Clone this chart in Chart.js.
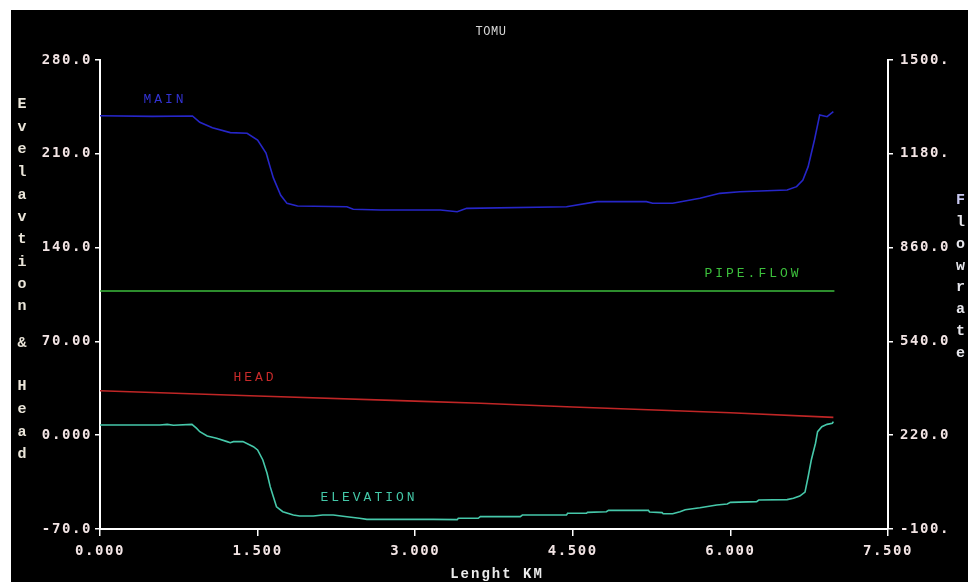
<!DOCTYPE html>
<html>
<head>
<meta charset="utf-8">
<script src="https://cdn.jsdelivr.net/npm/chart.js@4/dist/chart.umd.min.js"></script>
<style>
html,body{margin:0;padding:0;background:#fff;}
canvas{display:block;}
</style>
</head>
<body>
<canvas id="c" width="968" height="582" style="width:968px;height:582px"></canvas>
<script>
// ---- data ----
const chartTitle = 'TOMU';
const xAxisTitle = 'Lenght KM';
const leftAxisTitle = 'Evelavtion & Head';
const rightAxisTitle = 'Flowrate';

const xTickLabels = ['0.000', '1.500', '3.000', '4.500', '6.000', '7.500'];
const leftTickLabels = ['-70.0', '0.000', '70.00', '140.0', '210.0', '280.0'];
const rightTickLabels = ['-100.', '220.0', '540.0', '860.0', '1180.', '1500.'];

const elevKm = [0.00, 0.57, 0.64, 0.70, 0.875, 0.92, 0.95, 1.02, 1.11, 1.21, 1.24, 1.27, 1.36, 1.46, 1.50, 1.55, 1.59, 1.62, 1.65, 1.68, 1.74, 1.84, 1.90, 2.03, 2.12, 2.22, 2.35, 2.47, 2.54, 2.86, 3.17, 3.40, 3.41, 3.60, 3.62, 4.00, 4.02, 4.44, 4.45, 4.63, 4.64, 4.82, 4.84, 5.22, 5.23, 5.35, 5.36, 5.45, 5.52, 5.57, 5.71, 5.87, 5.97, 6.00, 6.25, 6.27, 6.54, 6.60, 6.66, 6.71, 6.74, 6.77, 6.81, 6.83, 6.87, 6.92, 6.97, 6.98];
const elevM = [7.6, 7.6, 8.1, 7.4, 8.1, 5.1, 2.6, -0.6, -2.3, -4.8, -5.6, -4.8, -4.8, -8.6, -11.0, -18.5, -28.4, -38.4, -45.9, -53.4, -57.1, -59.6, -60.3, -60.3, -59.6, -59.6, -60.8, -62.0, -62.8, -62.8, -62.8, -63.0, -62.0, -62.0, -60.8, -60.8, -59.6, -59.6, -58.3, -58.3, -57.6, -57.1, -56.1, -56.1, -57.3, -57.8, -58.6, -58.6, -57.1, -55.6, -54.1, -52.1, -51.3, -50.1, -49.6, -48.4, -48.1, -47.1, -45.4, -42.5, -31.0, -18.5, -6.0, 2.6, 6.3, 8.1, 8.9, 10.1];

const mainKm = [0.00, 0.50, 0.88, 0.95, 1.07, 1.24, 1.40, 1.50, 1.58, 1.65, 1.72, 1.78, 1.88, 2.35, 2.41, 2.67, 3.24, 3.40, 3.49, 4.44, 4.73, 5.20, 5.26, 5.45, 5.71, 5.90, 6.09, 6.54, 6.63, 6.69, 6.74, 6.80, 6.85, 6.92, 6.98];
const mainM = [238.4, 237.9, 238.2, 233.5, 229.5, 225.8, 225.3, 220.3, 210.5, 192.0, 179.0, 173.0, 171.0, 170.5, 168.6, 168.1, 168.1, 166.8, 169.3, 170.5, 174.3, 174.3, 173.1, 173.1, 176.8, 180.5, 181.7, 183.0, 185.5, 190.4, 200.4, 220.3, 239.0, 237.7, 241.4];

const headKm = [0.00, 1.50, 3.00, 3.62, 4.50, 6.00, 6.98];
const headM = [33.2, 29.2, 25.4, 23.8, 21.0, 16.8, 13.3];

const flowKm = [0.00, 6.99];
const flowRate = [712, 712];

const seriesNames = ['MAIN', 'PIPE.FLOW', 'HEAD', 'ELEVATION'];

// ---- helpers ----
const pts = (xs, ys) => xs.map((x, i) => ({x: x, y: ys[i]}));
const tickColor = '#f2e4e4';
const tickFont = {family: '"DejaVu Sans Mono", monospace', size: 14, weight: 'bold'};

const decor = {
  id: 'decor',
  beforeDraw(chart) {
    const ctx = chart.ctx;
    ctx.save();
    ctx.fillStyle = '#ffffff';
    ctx.fillRect(0, 0, chart.width, chart.height);
    ctx.fillStyle = '#000000';
    ctx.fillRect(11, 10, chart.width - 11, chart.height - 10);
    ctx.restore();
    ctx.letterSpacing = '1.6px';
  },
  afterDraw(chart) {
    const ctx = chart.ctx;
    const txt = (s, x, y, font, color, align, spacing) => {
      ctx.save();
      ctx.letterSpacing = spacing;
      ctx.font = font;
      ctx.fillStyle = color;
      ctx.textAlign = align;
      ctx.textBaseline = 'middle';
      ctx.fillText(s, x, y);
      ctx.restore();
    };
    // title
    txt(chartTitle, 491, 32, '12px "Liberation Mono", monospace', '#d8d8d8', 'center', '0.5px');
    // x title
    txt(xAxisTitle, 497, 574, 'bold 14px "Liberation Mono", monospace', '#ececec', 'center', '2px');
    // left vertical title
    const leftY = [104, 127, 149, 172, 195, 217, 239, 262, 284, 306, 343, 386, 409, 432, 454];
    const leftChars = leftAxisTitle.replace(/ /g, '').split('');
    leftChars.forEach((c, i) => txt(c, 22, leftY[i], 'bold 15px "Liberation Mono", monospace', '#ebe6da', 'center', '0px'));
    // right vertical title
    const rightY = [200, 222, 244, 266, 287, 309, 331, 353];
    rightAxisTitle.split('').forEach((c, i) => txt(c, 956, rightY[i], 'bold 15px "Liberation Mono", monospace', i === 0 ? '#c8c8f0' : '#e6e6ec', 'left', '0px'));
    // series labels
    const lf = '13px "Liberation Mono", monospace';
    txt(seriesNames[0], 165, 100, lf, '#3232d2', 'center', '3px');
    txt(seriesNames[1], 753, 274, lf, '#3cc03c', 'center', '3px');
    txt(seriesNames[2], 255, 378, lf, '#c82a2a', 'center', '3px');
    txt(seriesNames[3], 369, 498, lf, '#44c8a8', 'center', '3px');
  }
};

const lineDs = (label, data, color, axis) => ({
  label: label, data: data, borderColor: color, backgroundColor: color,
  borderWidth: 1.6, pointRadius: 0, tension: 0, fill: false, yAxisID: axis
});

new Chart(document.getElementById('c'), {
  type: 'line',
  data: {
    datasets: [
      lineDs(seriesNames[0], pts(mainKm, mainM), '#2626c8', 'yL'),
      lineDs(seriesNames[1], pts(flowKm, flowRate), '#3cbc3c', 'yR'),
      lineDs(seriesNames[2], pts(headKm, headM), '#c02626', 'yL'),
      lineDs(seriesNames[3], pts(elevKm, elevM), '#46c8aa', 'yL')
    ]
  },
  options: {
    responsive: false,
    devicePixelRatio: 1,
    animation: false,
    layout: {padding: {top: 60, left: 0, right: 0, bottom: 0}},
    plugins: {legend: {display: false}, tooltip: {enabled: false}, title: {display: false}},
    scales: {
      x: {
        type: 'linear', position: 'bottom', min: 0, max: 7.5,
        afterFit(s) { s.height = 53; },
        grid: {display: true, drawOnChartArea: false, drawTicks: true, tickLength: 7, color: '#ffffff', lineWidth: 1.5},
        border: {display: true, color: '#ffffff', width: 2},
        ticks: {stepSize: 1.5, autoSkip: false, maxRotation: 0, padding: 7, color: tickColor, font: tickFont,
          callback: (v, i) => xTickLabels[i]}
      },
      yL: {
        type: 'linear', position: 'left', min: -70, max: 280,
        afterFit(s) { s.width = 100; },
        grid: {display: true, drawOnChartArea: false, drawTicks: true, tickLength: 5, color: '#ffffff', lineWidth: 1.5},
        border: {display: true, color: '#ffffff', width: 2},
        ticks: {stepSize: 70, autoSkip: false, padding: 3, color: tickColor, font: tickFont,
          callback: (v, i) => leftTickLabels[i]}
      },
      yR: {
        type: 'linear', position: 'right', min: -100, max: 1500,
        afterFit(s) { s.width = 80; },
        grid: {display: true, drawOnChartArea: false, drawTicks: true, tickLength: 5, color: '#ffffff', lineWidth: 1.5},
        border: {display: true, color: '#ffffff', width: 2},
        ticks: {stepSize: 320, autoSkip: false, padding: 7, color: tickColor, font: tickFont,
          callback: (v, i) => rightTickLabels[i]}
      }
    }
  },
  plugins: [decor]
});
</script>
</body>
</html>
